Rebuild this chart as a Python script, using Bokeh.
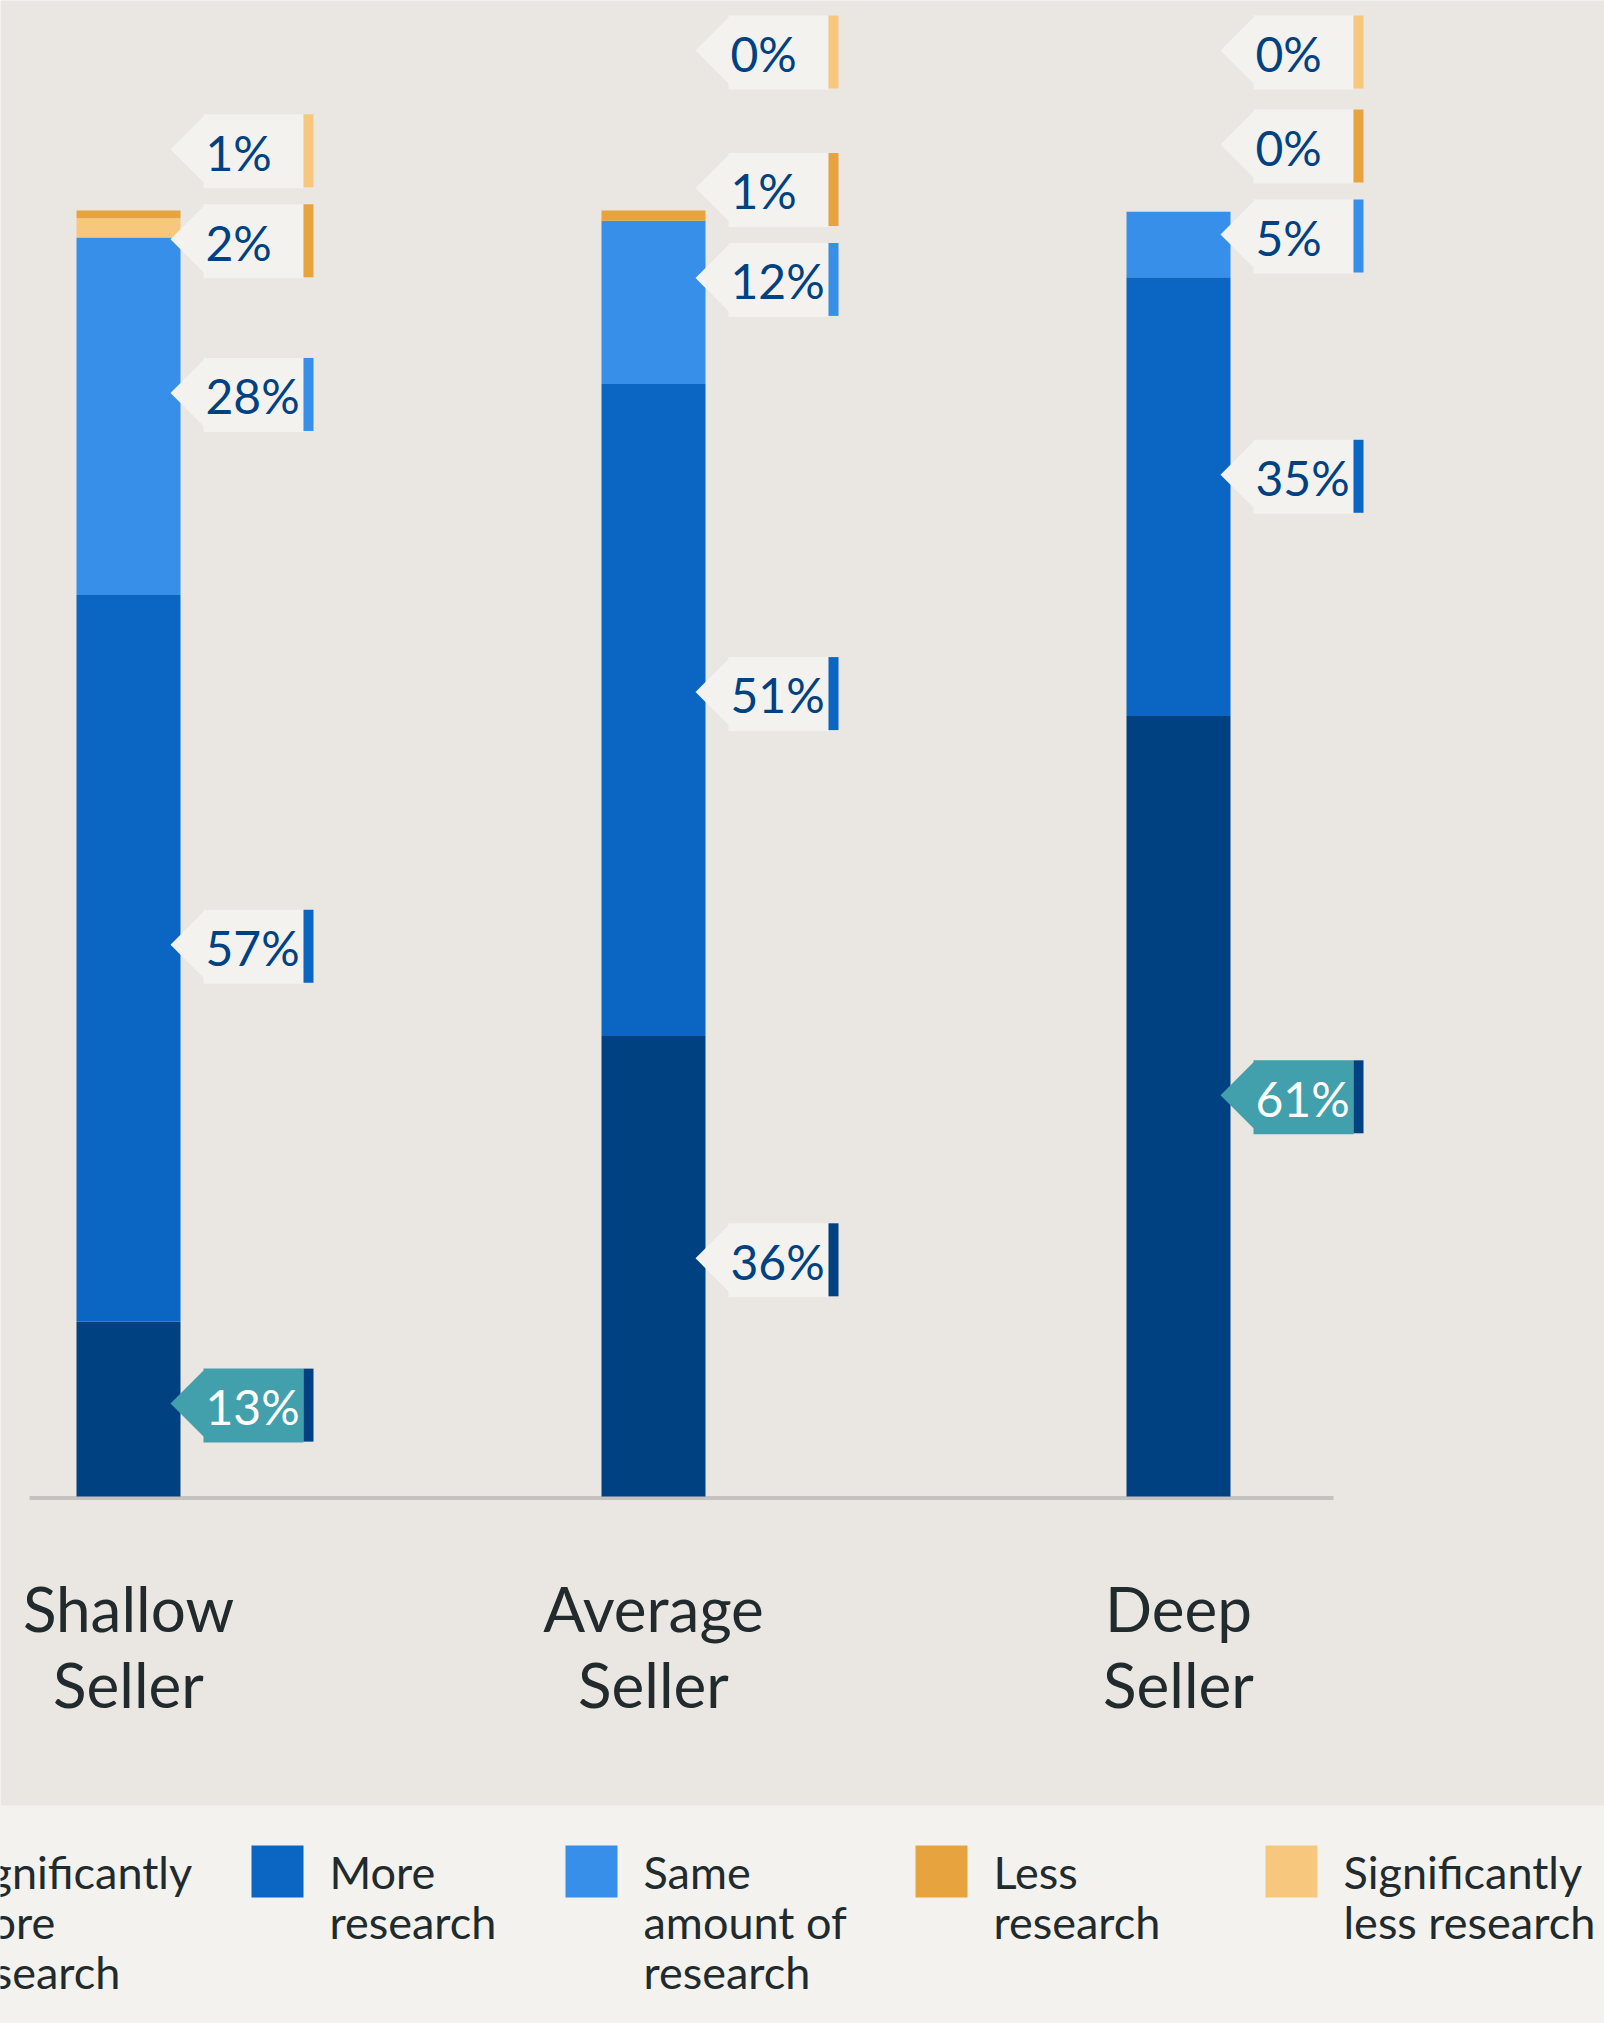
from bokeh.plotting import figure
from bokeh.models import ColumnDataSource, Range1d
from bokeh.core.properties import value
from bokeh.embed import file_html
from bokeh.resources import INLINE

# ---------------- data ----------------
categories = ["Shallow\nSeller", "Average\nSeller", "Deep\nSeller"]
series_names = ["Significantly\nmore\nresearch", "More\nresearch", "Same\namount of\nresearch",
                "Less\nresearch", "Significantly\nless research"]
sig_more = [13.6, 35.8, 60.7]
more = [56.5, 50.7, 34.1]
same = [27.8, 12.7, 5.1]
less = [0.6, 0.8, 0.0]
sig_less = [1.5, 0.0, 0.0]
labels_sig_more = ["13%", "36%", "61%"]
labels_more = ["57%", "51%", "35%"]
labels_same = ["28%", "12%", "5%"]
labels_less = ["2%", "1%", "0%"]
labels_sig_less = ["1%", "0%", "0%"]
highlight_sig_more = [True, False, True]

# ---------------- styles ----------------
BG = "#EAE6E2"
PANEL = "#F3F2EF"
C_SIG_MORE = "#004182"
C_MORE = "#0A66C2"
C_SAME = "#378FE9"
C_LESS = "#E7A33E"
C_SIG_LESS = "#F8C77E"
TEAL = "#429FAC"
TXT = "#212A2C"
AXIS = "#C4C2BF"
FONT = value("Lato")
EM_FIX = 0.4   # raise alphabetic baselines by this fraction of the font size

W, H = 1604, 2023
PX_X = 525.0      # px per category step
X0 = 128.0        # px of first category centre
PX_Y = 12.86      # px per percent
Y0 = 1496.0       # px of 0 %


def dx(px):
    return px / PX_X


def dy(px):
    return px / PX_Y


def xpage(px):
    return (px - X0) / PX_X


def ypage(py):
    return (Y0 - py) / PX_Y


p = figure(width=W, height=H, x_range=Range1d(-X0 / PX_X, (W - X0) / PX_X),
           y_range=Range1d((Y0 - H) / PX_Y, Y0 / PX_Y),
           output_backend="svg", toolbar_location=None, min_border=0,
           x_axis_location=None, y_axis_location=None,
           background_fill_color=BG, border_fill_color=BG, outline_line_color=None)
p.grid.visible = False
YTOP = p.y_range.end

xs = list(range(len(categories)))

# baseline
p.segment(x0=[xpage(29)], x1=[xpage(1333)], y0=[-dy(1.5)], y1=[-dy(1.5)],
          line_color=AXIS, line_width=4)

# stacked bars (light "significantly less" sits under the orange "less")
src = ColumnDataSource(dict(x=xs, sig_more=sig_more, more=more, same=same,
                            sig_less=sig_less, less=less))
p.vbar_stack(["sig_more", "more", "same", "sig_less", "less"], x="x", width=dx(104),
             fill_color=[C_SIG_MORE, C_MORE, C_SAME, C_SIG_LESS, C_LESS],
             line_color=None, source=src)

# ---------------- tags ----------------
stack_order = [sig_more, more, same, sig_less, less]
stack_keys = ["sig_more", "more", "same", "sig_less", "less"]
label_order = [("sig_more", labels_sig_more, C_SIG_MORE, sig_more),
               ("more", labels_more, C_MORE, more),
               ("same", labels_same, C_SAME, same),
               ("less", labels_less, C_LESS, less),
               ("sig_less", labels_sig_less, C_SIG_LESS, sig_less)]

tag_xs, tag_ys, tag_fill = [], [], []
st_l, st_r, st_t, st_b, st_c = [], [], [], [], []
tx, ty, tt, tc = [], [], [], []
GAP = dy(90)
TAG_FS = 48
for i in xs:
    mids = {}
    base = 0.0
    for key, vals in zip(stack_keys, stack_order):
        mids[key] = base + vals[i] / 2.0
        base += vals[i]
    pos, fixed = [], []
    zero_keys = [k for k, _, _, v in label_order if v[i] == 0]
    for key, labs, col, vals in label_order:
        if vals[i] == 0:
            # empty segments: tags are parked in slots from the top down
            slot = len(zero_keys) - 1 - zero_keys.index(key)
            pos.append(YTOP - dy(50) - slot * dy(94))
            fixed.append(True)
        else:
            pos.append(mids[key] * 1.018 + 0.3)
            fixed.append(False)
    # relax overlapping neighbours
    for _ in range(60):
        moved = False
        for j in range(len(pos) - 1):
            d = pos[j + 1] - pos[j]
            if d < GAP - 1e-6:
                need = GAP - d
                if fixed[j] and fixed[j + 1]:
                    continue
                if fixed[j + 1]:
                    pos[j] -= need
                elif fixed[j]:
                    pos[j + 1] += need
                else:
                    pos[j] -= need / 2
                    pos[j + 1] += need / 2
                moved = True
        if not moved:
            break
    for (key, labs, col, vals), yv in zip(label_order, pos):
        tip = i + dx(52 - 10)
        left = tip + dx(33)
        right = tip + dx(133)
        top = yv + dy(35)
        bot = yv - dy(39)
        tag_xs.append([left, right, right, left, left, tip, left])
        tag_ys.append([top, top, bot, bot, yv - dy(33), yv, yv + dy(33)])
        hl = key == "sig_more" and highlight_sig_more[i]
        tag_fill.append(TEAL if hl else PANEL)
        st_l.append(right)
        st_r.append(right + dx(10))
        st_t.append(top)
        st_b.append(bot + dy(1))
        st_c.append(col)
        tx.append(tip + dx(35))
        ty.append(yv - dy(22) + dy(EM_FIX * TAG_FS))
        tt.append(labs[i])
        tc.append("#FFFFFF" if hl else C_SIG_MORE)

p.patches(xs=tag_xs, ys=tag_ys, fill_color=tag_fill, line_color=None)
p.quad(left=st_l, right=st_r, top=st_t, bottom=st_b, fill_color=st_c, line_color=None)
p.text(x=tx, y=ty, text=tt, text_color=tc, text_font=FONT, text_font_size=f"{TAG_FS}px",
       text_align="left", text_baseline="alphabetic")

# ---------------- category labels ----------------
CAT_FS = 62
cl_x, cl_y, cl_t = [], [], []
for i, cat in enumerate(categories):
    for k, line in enumerate(cat.split("\n")):
        cl_x.append(i)
        cl_y.append(ypage(1632 + 76 * k - EM_FIX * CAT_FS))
        cl_t.append(line)
p.text(x=cl_x, y=cl_y, text=cl_t, text_color=TXT, text_font=FONT, text_font_size=f"{CAT_FS}px",
       text_align="center", text_baseline="alphabetic")

# ---------------- legend panel ----------------
LEG_FS = 45
p.quad(left=[xpage(-50)], right=[xpage(1700)], top=[ypage(1805)], bottom=[ypage(2100)],
       fill_color=PANEL, line_color=None)
leg_sq_x = [-125, 251, 565, 915, 1265]
leg_colors = [C_SIG_MORE, C_MORE, C_SAME, C_LESS, C_SIG_LESS]
p.quad(left=[xpage(v) for v in leg_sq_x], right=[xpage(v + 52) for v in leg_sq_x],
       top=[ypage(1845)] * 5, bottom=[ypage(1897)] * 5, fill_color=leg_colors, line_color=None)
lx, ly, lt = [], [], []
for sx, name in zip(leg_sq_x, series_names):
    for k, line in enumerate(name.split("\n")):
        lx.append(xpage(sx + 78))
        ly.append(ypage(1889 + 50 * k - EM_FIX * LEG_FS))
        lt.append(line)
p.text(x=lx, y=ly, text=lt, text_color=TXT, text_font=FONT, text_font_size=f"{LEG_FS}px",
       text_align="left", text_baseline="alphabetic")

open("out.html", "w").write(file_html(p, INLINE))
